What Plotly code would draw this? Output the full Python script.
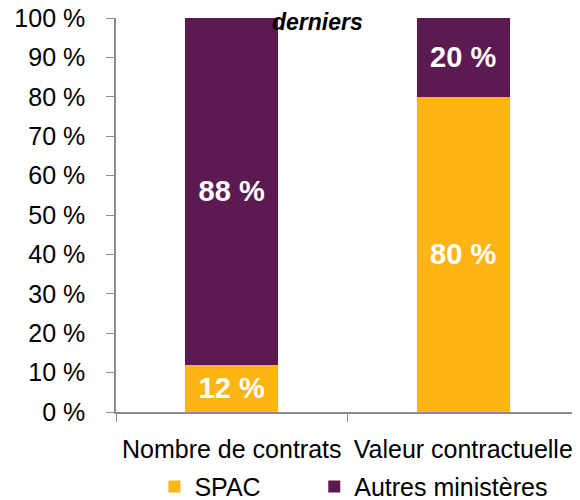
import plotly.graph_objects as go

categories = ["Nombre de contrats", "Valeur contractuelle"]
spac = [12, 80]
autres = [88, 20]
series_names = ["SPAC", "Autres ministères"]
y_ticks = [0, 10, 20, 30, 40, 50, 60, 70, 80, 90, 100]
y_tick_labels = [f"{v} %" for v in y_ticks]

ORANGE = "#FDB515"
PURPLE = "#5C1B50"
FONT = "Liberation Sans Narrow, Arial Narrow, Liberation Sans, Arial, sans-serif"
LEGEND_PAD = "\u00a0" * 7  # spacing between legend entries

fig = go.Figure()
fig.add_trace(go.Bar(
    x=categories, y=spac, name=series_names[0] + LEGEND_PAD, marker_color=ORANGE,
    marker_line_width=0,
    text=[f"{v} %" for v in spac], textposition="inside", insidetextanchor="middle",
    textangle=0,
    textfont=dict(color="white", size=29, family=FONT, weight="bold"),
))
fig.add_trace(go.Bar(
    x=categories, y=autres, name=series_names[1], marker_color=PURPLE,
    marker_line_width=0,
    text=[f"{v} %" for v in autres], textposition="inside", insidetextanchor="middle",
    textangle=0,
    textfont=dict(color="white", size=29, family=FONT, weight="bold"),
))

fig.update_layout(
    barmode="stack",
    bargap=0.6,
    width=572, height=492,
    margin=dict(l=108, r=1, t=10, b=88, autoexpand=False),
    plot_bgcolor="white", paper_bgcolor="white",
    font=dict(family=FONT, size=24, color="black"),
    uniformtext=dict(mode="show", minsize=10),
    showlegend=True,
    legend=dict(orientation="h", x=0.083, xanchor="left", y=-0.19, yanchor="middle",
                traceorder="normal", font=dict(size=25, family=FONT), itemwidth=30),
    xaxis=dict(showline=True, linecolor="#8c8c8c", linewidth=1.5, ticks="outside",
               tickcolor="#8c8c8c", ticklen=8, tickson="boundaries", tickangle=0,
               automargin=False, ticklabelstandoff=14,
               tickfont=dict(size=25, family=FONT)),
    yaxis=dict(range=[0, 100], tickvals=y_ticks, ticktext=y_tick_labels,
               showgrid=False, zeroline=False, showline=True, linecolor="#8c8c8c",
               linewidth=1.5, ticks="outside", tickcolor="#8c8c8c", ticklen=8,
               ticklabelstandoff=16, automargin=False, ticklabeloverflow="allow",
               tickfont=dict(size=25, family=FONT)),
    annotations=[dict(text="<b><i>derniers</i></b>", xref="paper", yref="paper",
                      x=0.436, y=0.99, xanchor="center", yanchor="middle",
                      showarrow=False,
                      font=dict(size=23, color="black", family=FONT))],
)

fig.write_html("out.html")
